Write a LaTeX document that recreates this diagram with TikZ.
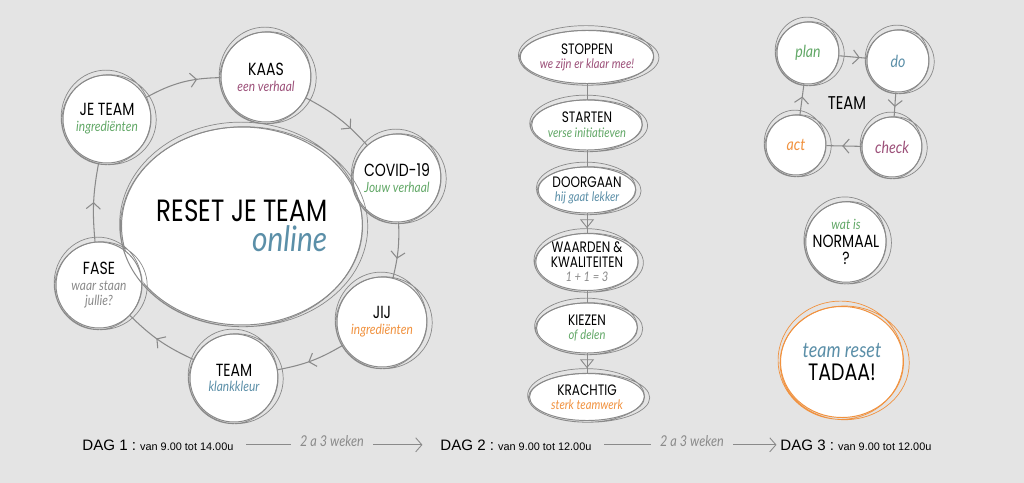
\documentclass[tikz,border=0pt]{standalone}
\usepackage{fontspec}
\setmainfont{Poppins}[FakeStretch=0.8]
\newfontfamily\hand{Lato}[FakeStretch=0.85]
\newfontfamily\arial{Liberation Sans}
\usetikzlibrary{shapes.geometric,shadows,decorations.markings,arrows.meta,calc}
\definecolor{bggray}{HTML}{E4E4E4}
\definecolor{pencil}{HTML}{8A8A8A}
\definecolor{mauve}{HTML}{9C5079}
\definecolor{leaf}{HTML}{62A867}
\definecolor{steel}{HTML}{5B8FA8}
\definecolor{tang}{HTML}{F1923F}
\newcommand{\sub}[3][8]{{\hand\itshape\fontsize{#1}{#1}\selectfont\color{#2}#3}}
\tikzset{
  blob/.style={circle,draw=pencil,line width=0.55pt,fill=white,inner sep=0pt,align=center,
    font=\fontsize{10}{10.5}\selectfont,
    drop shadow={shadow xshift=1pt,shadow yshift=-1.3pt,fill=black!11,opacity=1}},
  pill/.style={blob,ellipse,font=\fontsize{8.6}{9}\selectfont},
  ring/.style={draw=pencil,line width=0.4pt},
  cyc/.style={pencil,line width=0.6pt,postaction={decorate},
    decoration={markings,mark=at position #1 with {\arrow{Straight Barb[length=3.5pt,width=8pt]}}}},
  cyc/.default=0.55,
  link/.style={pencil,line width=0.5pt},
  tri/.style={link,postaction={decorate},
    decoration={markings,mark=at position 0.75 with {\arrow{Triangle[open,length=5pt,width=8pt]}}}},
  dag/.style={anchor=base west,inner sep=0pt,font=\arial\fontsize{6.2}{7}\selectfont},
  weeks/.style={anchor=base,inner sep=0pt,text=pencil,font=\hand\itshape\fontsize{8.5}{9}\selectfont},
}
\begin{document}
\begin{tikzpicture}[x=0.02cm,y=-0.02cm]
\path[use as bounding box,fill=bggray] (0,0) rectangle (1024,483);
% dag 1 cycle
\node[blob,ellipse,minimum width=4.2cm,minimum height=3.96cm,align=right] (big) at (242,226)
  {\fontsize{17.5}{18}\selectfont RESET JE TEAM\\[1pt]\sub[20]{steel}{online}};
\node[blob,minimum size=1.8cm] (kaas) at (266,77) {KAAS\\[-1.5pt]\sub{mauve}{een verhaal}};
\node[blob,minimum size=1.76cm] (covid) at (397,178) {COVID-19\\[-1.5pt]\sub{leaf}{Jouw verhaal}};
\node[blob,minimum size=1.8cm] (jij) at (382,322) {JIJ\\[-1.5pt]\sub{tang}{ingrediënten}};
\node[blob,minimum size=1.76cm] (klank) at (234,378) {TEAM\\[-1.5pt]\sub{steel}{klankkleur}};
\node[blob,minimum size=1.72cm] (fase) at (99,285) {FASE\\[-1.5pt]\sub{pencil}{waar staan}\\[-2pt]\sub{pencil}{jullie?}};
\node[blob,minimum size=1.76cm] (jeteam) at (107,119) {JE TEAM\\[-1.5pt]\sub{leaf}{ingrediënten}};
\draw[cyc=0.7] (jeteam) to[bend left=14] (kaas);
\draw[cyc=0.7] (kaas) to[bend left=10] (covid);
\draw[cyc=0.65] (covid) to[bend left=8] (jij);
\draw[cyc] (jij) to[bend left=10] (klank);
\draw[cyc] (klank) to[bend left=10] (fase);
\draw[cyc=0.5] (fase) to[bend left=8] (jeteam);
% dag 2 column
\node[pill,minimum width=2.22cm,minimum height=1.06cm] (stoppen) at (587,57) {STOPPEN\\[-1pt]\sub[7.5]{mauve}{we zijn er klaar mee!}};
\node[pill,minimum width=2.04cm,minimum height=1cm] (starten) at (587,125) {STARTEN\\[-0.5pt]\sub[7.5]{leaf}{verse initiatieven}};
\node[pill,minimum width=1.86cm,minimum height=0.92cm] (doorgaan) at (587,190) {DOORGAAN\\[-1pt]\sub[7.5]{steel}{hij gaat lekker}};
\node[pill,minimum width=2.02cm,minimum height=1.14cm] (waarden) at (587,262) {WAARDEN \&\\[-0.5pt]KWALITEITEN\\[-1pt]\sub[7.5]{pencil}{1 + 1 = 3}};
\node[pill,minimum width=2.02cm,minimum height=1cm] (kiezen) at (587,328) {KIEZEN\\[-1pt]\sub[7.5]{leaf}{of delen}};
\node[pill,minimum width=2.3cm,minimum height=0.94cm] (krachtig) at (587,397) {KRACHTIG\\[-1pt]\sub[7.5]{tang}{sterk teamwerk}};
\draw[link] (stoppen) -- (starten);
\draw[link] (starten) -- (doorgaan);
\draw[tri] (doorgaan) -- (waarden);
\draw[link] (waarden) -- (kiezen);
\draw[tri] (kiezen) -- (krachtig);
% dag 3
\node[blob,minimum size=1.24cm] (pplan) at (808,53) {\sub[9.5]{leaf}{plan}};
\node[blob,minimum size=1.24cm] (pdo) at (898,61) {\sub[9.5]{steel}{do}};
\node[blob,minimum size=1.2cm] (pcheck) at (892,147) {\sub[9.5]{mauve}{check}};
\node[blob,minimum size=1.2cm] (pact) at (796,145) {\sub[9.5]{tang}{act}};
\node[font=\fontsize{10.5}{11}\selectfont] (pteam) at (847,103) {TEAM};
\draw[cyc=0.75] (pplan) -- (pdo);
\draw[cyc=0.6] (pdo) -- (pcheck);
\draw[cyc=0.55] (pcheck) -- (pact);
\draw[cyc=0.6] (pact) -- (pplan);
\node[blob,minimum size=1.6cm] (normaal) at (846,242) {\sub{leaf}{wat is}\\[0pt]NORMAAL\\[-1pt]?};
\node[blob,ellipse,draw=tang,minimum width=2.46cm,minimum height=2.22cm] (tadaa) at (842,362)
  {\sub[12]{steel}{team reset}\\[3pt]\fontsize{13.5}{14}\selectfont TADAA!};
\foreach \b in {big,kaas,covid,jij,klank,fase,jeteam,stoppen,starten,doorgaan,waarden,kiezen,krachtig,pplan,pdo,pcheck,pact,normaal}{
  \draw[ring] let \p1=($(\b.east)-(\b.center)$),\p2=($(\b.north)-(\b.center)$) in
    ($(\b.center)+(1.2pt,-0.4pt)$) ellipse[x radius=\x1+1.5pt,y radius=\y2+0.3pt]
    ($(\b.center)+(-0.6pt,0.9pt)$) ellipse[x radius=\x1+0.2pt,y radius=\y2+1.6pt];
}
\draw[ring,draw=tang] let \p1=($(tadaa.east)-(tadaa.center)$),\p2=($(tadaa.north)-(tadaa.center)$) in
  ($(tadaa.center)+(1.5pt,-0.5pt)$) ellipse[x radius=\x1+1.5pt,y radius=\y2+0.5pt]
  ($(tadaa.center)+(-0.8pt,1pt)$) ellipse[x radius=\x1+0.3pt,y radius=\y2+1.8pt];
% timeline
\node[dag] (dag1) at (82,450) {{\fontsize{8.6}{9}\selectfont DAG 1 :} van 9.00 tot 14.00u};
\node[weeks] (w1) at (332,446) {2 a 3 weken};
\node[dag] (dag2) at (440,450) {{\fontsize{8.6}{9}\selectfont DAG 2 :} van 9.00 tot 12.00u};
\node[weeks] (w2) at (692,446) {2 a 3 weken};
\node[dag] (dag3) at (780,450) {{\fontsize{8.6}{9}\selectfont DAG 3 :} van 9.00 tot 12.00u};
\draw[link,shorten <=7pt,shorten >=5pt] (dag1.east) -- (dag1.east -| w1.west);
\draw[link,shorten <=5pt,shorten >=10pt,-{Straight Barb[length=3.5pt,width=8pt]}] (dag1.east -| w1.east) -- (dag1.east -| dag2.west);
\draw[link,shorten <=7pt,shorten >=5pt] (dag2.east) -- (dag2.east -| w2.west);
\draw[link,shorten <=5pt,shorten >=2pt,-{Straight Barb[length=3.5pt,width=8pt]}] (dag2.east -| w2.east) -- (dag2.east -| dag3.west);
\end{tikzpicture}
\end{document}
